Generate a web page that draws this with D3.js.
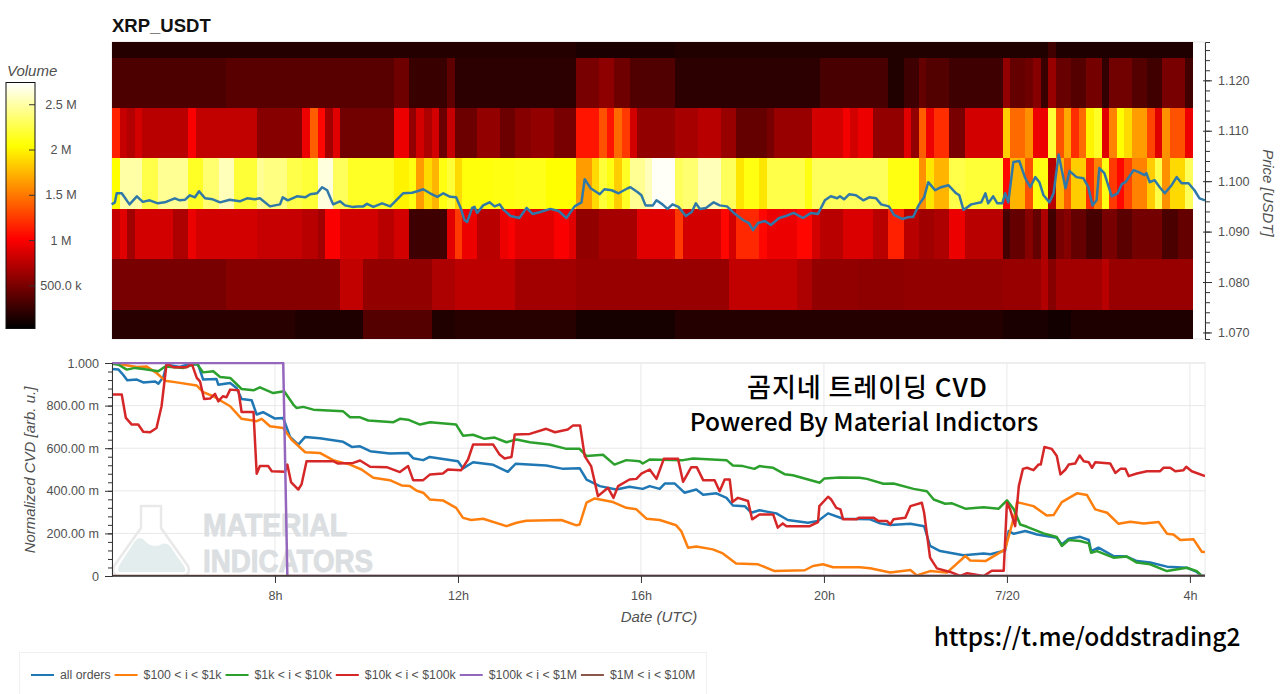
<!DOCTYPE html>
<html>
<head>
<meta charset="utf-8">
<script src="https://cdn.jsdelivr.net/npm/d3@7/dist/d3.min.js"></script>
<style>
  html, body { margin: 0; padding: 0; background: #fff; overflow: hidden; }
  text { font-family: "Liberation Sans", Arial, sans-serif; fill: #505050; }
  .ann { font-family: "Noto Sans CJK KR", "Noto Sans", sans-serif; fill: #000; }
</style>
</head>
<body>
<svg id="chart" width="1280" height="694"></svg>
<script>
// ---- heatmap: volume per price bin, stored as runs of [last column, volume in millions]
const priceBinEdges = [1.1276, 1.1245, 1.1145, 1.1045, 1.0945, 1.0845, 1.0745, 1.0687];
const columnCount = 142;
const columnStepHours = 0.1664;
const binTop = [[61,.17],[74,.13],[123,.16],[124,.28],[142,.15]];
const bin1120 = [[15,.33],[37,.37],[39,.46],[44,.25],[45,.4],[61,.2],[64,.5],[66,.58],[68,.46],[74,.34],[93,.2],[102,.31],[104,.16],[106,.27],[107,.42],[110,.35],[117,.27],[118,.6],[120,.42],[121,.46],[122,.55],[123,.25],[124,.62],[126,.43],[128,.36],[130,.48],[131,.22],[134,.47],[136,.36],[138,.28],[141,.5],[142,.28]];
const bin1110 = [[1,1.15],[2,.8],[3,.72],[4,.85],[10,.75],[11,1.0],[19,.78],[25,.55],[26,.95],[27,1.4],[28,1.05],[29,.65],[30,.9],[37,.47],[39,.95],[40,.6],[41,.85],[42,.7],[43,.85],[44,.45],[45,.8],[48,.45],[51,.6],[53,.45],[55,.55],[58,.6],[61,.5],[64,1.1],[65,1.35],[66,1.1],[67,1.45],[68,1.25],[69,.85],[74,.6],[77,.68],[80,.75],[82,.62],[86,.42],[87,.5],[92,.62],[96,.85],[97,.98],[98,.85],[100,.95],[104,.6],[105,.9],[106,.6],[107,1.4],[108,.95],[110,1.2],[112,.5],[117,.85],[118,1.85],[120,1.45],[121,1.6],[123,.95],[124,2.2],[125,1.35],[126,1.7],[127,1.2],[128,1.45],[129,2.0],[130,2.15],[131,.9],[132,1.55],[133,2.05],[134,1.9],[136,1.65],[137,1.3],[138,.9],[139,1.6],[141,1.35],[142,.95]];
const bin1100 = [[1,2.05],[4,2.5],[6,2.25],[10,2.45],[12,2.15],[14,2.35],[16,2.55],[19,2.2],[20,2.45],[23,2.4],[25,2.25],[27,2.2],[29,2.65],[31,2.3],[37,2.15],[39,2.0],[40,2.1],[41,1.65],[42,1.9],[43,1.75],[44,2.1],[45,2.2],[46,1.9],[50,2.08],[53,2.1],[57,2.12],[61,2.05],[63,1.65],[64,1.9],[65,2.2],[66,2.1],[67,1.85],[68,2.15],[70,2.45],[71,2.55],[74,2.72],[75,2.3],[77,2.35],[80,2.55],[82,2.3],[83,1.95],[85,2.1],[86,1.95],[91,2.25],[92,2.1],[102,2.3],[106,2.1],[107,1.6],[108,1.95],[110,1.75],[112,2.25],[117,2.2],[118,1.05],[120,1.75],[121,1.35],[123,2.1],[124,.75],[125,1.75],[126,1.4],[128,1.85],[129,1.2],[130,1.55],[131,2.1],[132,1.25],[133,1.05],[134,1.3],[136,1.55],[137,1.85],[138,2.25],[139,1.6],[141,1.9],[142,2.3]];
const bin1090 = [[1,.8],[2,.9],[3,.65],[8,.85],[10,.7],[11,.95],[19,.85],[25,.8],[27,.75],[28,.65],[30,1.0],[35,.85],[37,.75],[39,.85],[44,.27],[45,.9],[46,1.25],[48,.95],[51,.75],[52,.95],[53,1.0],[58,.9],[60,1.0],[61,.9],[64,.6],[69,.68],[74,.9],[75,1.25],[80,.85],[81,1.05],[82,.85],[85,1.18],[86,1.05],[90,.95],[92,1.05],[93,.85],[96,.75],[100,.88],[102,.75],[104,1.15],[106,.75],[108,.65],[110,.7],[112,.95],[117,.75],[118,.3],[120,.42],[121,.55],[122,.42],[123,.7],[124,.28],[125,.5],[126,.55],[128,.42],[130,.3],[132,.5],[134,.38],[138,.48],[140,.32],[142,.42]];
const bin1080 = [[15,.5],[30,.55],[33,.78],[42,.6],[45,.7],[53,.76],[61,.66],[81,.62],[90,.78],[92,.7],[98,.6],[104,.58],[117,.6],[122,.62],[123,.72],[124,.55],[130,.66],[131,.75],[142,.62]];
const bin1070 = [[24,.185],[33,.15],[42,.36],[45,.16],[61,.18],[74,.12],[98,.17],[117,.17],[123,.13],[126,.1],[142,.15]];
const volumeBins = [binTop, bin1120, bin1110, bin1100, bin1090, bin1080, bin1070];

// ---- price line: [hour since 7/19 00:00, USDT]
const priceSeries = [[4.43,1.0954],[4.5,1.0958],[4.54,1.0976],[4.65,1.0976],[4.82,1.0954],[4.98,1.097],[5.11,1.0959],[5.26,1.0962],[5.44,1.0956],[5.59,1.0958],[5.81,1.0966],[5.92,1.0962],[6.03,1.0963],[6.14,1.0972],[6.25,1.0968],[6.34,1.098],[6.47,1.0966],[6.64,1.0964],[6.8,1.0958],[7.01,1.0963],[7.23,1.096],[7.39,1.0966],[7.56,1.0964],[7.67,1.0966],[7.89,1.095],[8.11,1.0954],[8.17,1.0968],[8.28,1.0962],[8.48,1.097],[8.66,1.0968],[8.77,1.0974],[8.92,1.0976],[9.03,1.0988],[9.14,1.0982],[9.27,1.0954],[9.42,1.096],[9.53,1.0952],[9.69,1.0949],[9.8,1.095],[9.93,1.095],[10.01,1.0955],[10.15,1.0949],[10.34,1.0956],[10.52,1.095],[10.67,1.0964],[10.8,1.0976],[11,1.0977],[11.11,1.098],[11.24,1.0984],[11.39,1.0976],[11.55,1.0969],[11.68,1.0976],[11.83,1.0969],[11.96,1.0968],[12.05,1.0949],[12.14,1.0923],[12.2,1.0919],[12.31,1.0947],[12.36,1.0949],[12.42,1.0937],[12.55,1.0952],[12.69,1.0958],[12.8,1.095],[12.91,1.0954],[13,1.0943],[13.15,1.0931],[13.34,1.0927],[13.5,1.0947],[13.63,1.0935],[13.8,1.0939],[14.02,1.0945],[14.2,1.0941],[14.37,1.0927],[14.55,1.095],[14.7,1.0958],[14.77,1.1004],[14.9,1.0986],[15.1,1.0974],[15.2,1.0984],[15.36,1.0982],[15.51,1.0976],[15.71,1.0986],[15.77,1.0988],[15.93,1.0978],[16.01,1.0972],[16.1,1.0952],[16.26,1.0952],[16.34,1.0962],[16.47,1.0954],[16.58,1.0945],[16.69,1.0954],[16.82,1.0949],[16.98,1.0931],[17.11,1.0939],[17.2,1.0956],[17.29,1.0945],[17.42,1.0947],[17.59,1.0958],[17.72,1.0952],[17.88,1.095],[18.03,1.0937],[18.23,1.0923],[18.36,1.0917],[18.45,1.0903],[18.56,1.0917],[18.71,1.0921],[18.84,1.0913],[19.02,1.0927],[19.17,1.0931],[19.34,1.0937],[19.54,1.0927],[19.72,1.0937],[19.87,1.0935],[20.02,1.0962],[20.15,1.097],[20.29,1.0966],[20.35,1.097],[20.44,1.0964],[20.55,1.0974],[20.7,1.0972],[20.86,1.0962],[20.99,1.0968],[21.14,1.0966],[21.25,1.0954],[21.42,1.095],[21.53,1.0933],[21.71,1.0925],[21.86,1.0929],[21.95,1.0929],[22.08,1.0954],[22.19,1.0968],[22.28,1.0998],[22.43,1.0982],[22.56,1.0988],[22.72,1.0992],[22.89,1.0976],[22.96,1.0972],[23.05,1.0943],[23.22,1.0954],[23.44,1.0958],[23.53,1.0976],[23.59,1.0956],[23.7,1.097],[23.79,1.0956],[23.9,1.0956],[23.96,1.0976],[24.03,1.0958],[24.14,1.1038],[24.27,1.104],[24.4,1.1006],[24.51,1.0988],[24.62,1.1008],[24.71,1.0998],[24.8,1.0972],[24.93,1.0958],[25.02,1.0976],[25.13,1.1053],[25.28,1.0986],[25.37,1.102],[25.52,1.1008],[25.67,1.1006],[25.78,1.0988],[25.87,1.0952],[25.96,1.0962],[26.02,1.1026],[26.13,1.1016],[26.29,1.097],[26.42,1.0976],[26.51,1.0994],[26.59,1.0998],[26.77,1.1022],[26.88,1.1018],[27.01,1.1012],[27.05,1.1016],[27.12,1.0998],[27.23,1.1002],[27.34,1.0988],[27.45,1.0976],[27.6,1.0992],[27.71,1.1008],[27.82,1.0996],[27.97,1.0996],[28.1,1.0982],[28.21,1.0966],[28.33,1.0962]];

// ---- normalized CVD series: [hour since 7/19 00:00, value]
const cvdAllOrders = [[4.44,.972],[4.58,.969],[4.68,.945],[4.77,.919],[4.98,.922],[5.12,.909],[5.38,.913],[5.45,.903],[5.56,.934],[5.63,.992],[5.92,.981],[6.14,.997],[6.32,.992],[6.43,.922],[6.72,.925],[6.76,.898],[7.02,.906],[7.16,.883],[7.27,.831],[7.49,.825],[7.6,.758],[7.74,.769],[8,.739],[8.18,.742],[8.33,.653],[8.51,.617],[8.66,.653],[8.98,.647],[9.49,.63],[9.68,.606],[9.86,.609],[10.08,.586],[10.51,.575],[10.91,.578],[11.02,.553],[11.24,.544],[11.38,.559],[12,.539],[12.11,.505],[12.33,.534],[12.77,.522],[13.09,.489],[13.26,.527],[13.93,.519],[14.3,.503],[14.66,.506],[14.81,.453],[15.1,.422],[15.46,.406],[15.75,.419],[16.04,.409],[16.19,.422],[16.41,.409],[16.52,.434],[16.74,.434],[16.95,.391],[17.21,.406],[17.36,.381],[17.65,.388],[17.87,.367],[18.01,.331],[18.27,.328],[18.41,.297],[18.59,.309],[18.96,.294],[19.21,.263],[19.65,.25],[19.87,.258],[20.09,.294],[20.42,.269],[21.01,.266],[21.23,.247],[21.45,.239],[21.89,.245],[22.19,.234],[22.32,.141],[22.54,.117],[23.05,.097],[23.49,.106],[23.64,.102],[23.96,.12],[24.04,.211],[24.15,.198],[24.4,.211],[24.66,.195],[25.09,.18],[25.2,.148],[25.35,.175],[25.6,.184],[25.79,.169],[25.84,.117],[26,.133],[26.33,.094],[26.62,.091],[26.84,.07],[27.13,.063],[27.5,.044],[27.93,.039],[28.15,.019],[28.26,0],[28.33,0]];
const cvd100to1k = [[4.44,1],[4.68,.992],[4.98,.981],[5.19,.984],[5.41,.953],[5.6,.917],[5.85,.909],[6.29,.894],[6.43,.863],[6.65,.844],[7.02,.797],[7.27,.738],[7.6,.727],[7.71,.738],[7.89,.703],[8.18,.695],[8.36,.641],[8.66,.581],[8.98,.578],[9.27,.544],[9.64,.523],[9.89,.5],[10.15,.461],[10.51,.45],[10.77,.425],[10.95,.422],[11.1,.4],[11.24,.391],[11.39,.359],[11.67,.355],[11.96,.32],[12.11,.273],[12.29,.263],[12.55,.269],[13.06,.234],[13.28,.25],[13.49,.259],[14.26,.263],[14.59,.238],[14.66,.242],[14.81,.344],[14.99,.364],[15.39,.347],[15.68,.32],[15.9,.313],[16.12,.269],[16.41,.263],[16.77,.238],[16.88,.211],[17.03,.133],[17.21,.138],[17.57,.125],[17.79,.106],[18.08,.059],[18.56,.055],[18.92,.023],[19.58,.027],[19.76,.047],[19.98,.055],[20.2,.041],[20.78,.041],[21.01,.036],[21.45,.016],[21.89,.028],[22.03,.003],[22.32,.023],[22.69,.016],[23.09,.094],[23.2,.073],[23.53,.07],[23.96,.125],[24.07,.211],[24.18,.297],[24.22,.347],[24.58,.328],[24.87,.284],[25.02,.286],[25.2,.347],[25.53,.388],[25.75,.38],[25.93,.313],[26.19,.297],[26.44,.245],[26.7,.255],[26.99,.247],[27.32,.253],[27.5,.198],[27.64,.195],[27.79,.169],[28.08,.172],[28.26,.114],[28.33,.113]];
const cvd1kto10k = [[4.44,.997],[4.58,.992],[4.76,.969],[4.94,.977],[5.12,.972],[5.45,.961],[5.6,.984],[6,.977],[6.29,.997],[6.43,.956],[6.65,.961],[6.8,.934],[7.02,.93],[7.27,.878],[7.53,.872],[7.67,.886],[7.96,.859],[8.2,.867],[8.4,.805],[8.47,.789],[8.62,.794],[8.84,.781],[9.49,.773],[9.64,.745],[9.86,.745],[10.04,.73],[10.59,.722],[10.73,.738],[10.91,.734],[11.17,.711],[11.39,.722],[11.96,.711],[12.11,.659],[12.33,.663],[12.58,.644],[12.8,.65],[13.06,.628],[13.28,.641],[13.57,.628],[14,.617],[14.37,.597],[14.66,.597],[14.81,.563],[15.17,.569],[15.42,.523],[15.68,.544],[15.97,.539],[16.04,.528],[16.19,.547],[16.92,.544],[17.14,.552],[17.87,.544],[18.01,.519],[18.23,.516],[18.48,.503],[18.59,.516],[18.89,.508],[19.14,.478],[19.32,.473],[19.91,.438],[20.01,.458],[20.34,.463],[20.78,.461],[20.94,.456],[21.3,.433],[21.52,.434],[21.96,.409],[22.25,.398],[22.4,.359],[22.65,.339],[22.8,.341],[23.09,.316],[23.49,.323],[23.82,.316],[24,.355],[24.15,.313],[24.29,.242],[24.44,.231],[24.8,.2],[25.09,.183],[25.2,.141],[25.35,.169],[25.6,.164],[25.79,.153],[25.84,.109],[25.97,.117],[26.33,.086],[26.62,.091],[26.84,.063],[27.13,.055],[27.5,.023],[27.93,.039],[28.15,.023],[28.26,0],[28.33,0]];
const cvd10kto100k = [[4.44,.852],[4.65,.852],[4.74,.742],[4.87,.711],[5.01,.711],[5.12,.677],[5.27,.675],[5.41,.695],[5.52,.797],[5.63,.997],[5.78,.98],[6.07,.98],[6.18,.997],[6.29,.93],[6.36,.914],[6.45,.831],[6.58,.833],[6.69,.855],[6.76,.82],[6.86,.844],[6.94,.839],[7.02,.875],[7.2,.872],[7.27,.77],[7.53,.77],[7.6,.48],[7.67,.516],[7.85,.516],[7.93,.492],[8.22,.489],[8.27,.523],[8.35,.441],[8.51,.406],[8.58,.43],[8.69,.539],[9.27,.539],[9.38,.528],[9.71,.531],[9.86,.542],[10.08,.513],[10.44,.511],[10.73,.488],[10.91,.516],[11.02,.45],[11.24,.45],[11.39,.477],[11.67,.481],[11.78,.5],[12.07,.497],[12.22,.547],[12.33,.617],[12.77,.617],[12.91,.57],[13.02,.552],[13.17,.559],[13.24,.664],[13.57,.667],[13.93,.691],[14.12,.675],[14.4,.688],[14.51,.706],[14.67,.706],[14.77,.563],[14.91,.516],[15.06,.375],[15.28,.414],[15.4,.367],[15.5,.422],[15.75,.453],[15.9,.456],[16.01,.481],[16.19,.5],[16.34,.456],[16.5,.55],[16.81,.55],[16.92,.442],[17.1,.511],[17.22,.511],[17.36,.45],[17.61,.45],[17.72,.398],[17.83,.453],[17.94,.453],[18,.347],[18.12,.367],[18.34,.352],[18.43,.266],[18.59,.289],[18.89,.289],[18.99,.227],[19.1,.247],[19.18,.234],[19.69,.234],[19.87,.253],[19.9,.328],[20.09,.372],[20.16,.359],[20.27,.32],[20.36,.313],[20.42,.266],[20.71,.266],[20.76,.273],[21.09,.273],[21.19,.258],[21.38,.258],[21.45,.242],[21.52,.266],[21.78,.273],[21.89,.328],[22.14,.344],[22.19,.297],[22.32,.086],[22.47,.036],[22.76,.019],[22.98,0],[23.13,.013],[23.49,0],[23.67,.025],[23.93,.025],[24,.344],[24.07,.313],[24.18,.234],[24.26,.422],[24.35,.503],[24.44,.508],[24.58,.497],[24.69,.523],[24.74,.523],[24.82,.606],[24.98,.597],[25.09,.563],[25.17,.477],[25.28,.5],[25.35,.523],[25.49,.528],[25.59,.566],[25.68,.539],[25.79,.534],[25.86,.508],[25.93,.534],[26.26,.528],[26.37,.484],[26.48,.503],[26.59,.503],[26.66,.469],[26.84,.481],[27.06,.492],[27.35,.492],[27.42,.508],[27.57,.508],[27.68,.492],[27.86,.497],[27.92,.513],[28.04,.492],[28.33,.469]];
const cvd100kto1m = [[4.44,1],[8.18,1],[8.27,0],[28.33,0]];
const cvd1mto10m = [[4.44,0],[28.33,0]];

const seriesNames = ["all orders", "$100 < i < $1k", "$1k < i < $10k", "$10k < i < $100k", "$100k < i < $1M", "$1M < i < $10M"];
const seriesValues = [cvdAllOrders, cvd100to1k, cvd1kto10k, cvd10kto100k, cvd100kto1m, cvd1mto10m];
const seriesColors = ["#1f77b4", "#ff7f0e", "#2ca02c", "#d62728", "#9467bd", "#8c564b"];

// ---- axis ticks
const timeTickHours = [8, 12, 16, 20, 24, 28];
const timeTickLabels = ["8h", "12h", "16h", "20h", "7/20", "4h"];
const cvdTicks = [0, .2, .4, .6, .8, 1];
const cvdTickLabels = ["0", "200.00 m", "400.00 m", "600.00 m", "800.00 m", "1.000"];
const priceTicks = [1.07, 1.08, 1.09, 1.10, 1.11, 1.12];
const volumeTicks = [.5, 1, 1.5, 2, 2.5];
const volumeTickLabels = ["500.0 k", "1 M", "1.5 M", "2 M", "2.5 M"];

// ---- layout
const plotLeft = 112, plotRight = 1205;
const heatTop = 42, heatBottom = 339;
const cvdTop = 363, cvdBottom = 576;
const hourStart = 4.437, hourEnd = 28.33;
const tickFont = "12.6px", titleFont = "15px";

const svg = d3.select("#chart");
const x = d3.scaleLinear().domain([hourStart, hourEnd]).range([plotLeft, plotRight]);
const yPrice = d3.scaleLinear().domain([1.0687, 1.1276]).range([heatBottom, heatTop]);
const yCvd = d3.scaleLinear().domain([0, 1]).range([cvdBottom, cvdTop]);
const hot = d3.scaleLinear().domain([.03, 1.02, 2.05, 2.74]).range(["#000000", "#ff0000", "#ffff00", "#ffffff"]).clamp(true);
const yVolume = d3.scaleLinear().domain([.035, 2.74]).range([328, 83]);

// expand each bin's runs into one cell per column
const cells = [];
volumeBins.forEach((runs, bin) => {
  let col = 0;
  runs.forEach(([last, volume]) => {
    for (; col < last; col++) cells.push({ bin, col, volume });
  });
});

// ---- top panel
svg.append("text").attr("x", plotLeft).attr("y", 32)
  .style("font-weight", "bold").style("font-size", "18.5px").style("fill", "#111").text("XRP_USDT");

svg.append("rect").attr("x", plotLeft).attr("y", heatTop).attr("width", plotRight - plotLeft).attr("height", heatBottom - heatTop)
  .attr("fill", "none").attr("stroke", "#e5e5e5");

const colX = c => x(hourStart + c * columnStepHours);
svg.append("g").attr("shape-rendering", "crispEdges").selectAll("rect").data(cells).join("rect")
  .attr("x", d => colX(d.col))
  .attr("width", d => colX(d.col + 1) - colX(d.col) + .4)
  .attr("y", d => yPrice(priceBinEdges[d.bin]))
  .attr("height", d => yPrice(priceBinEdges[d.bin + 1]) - yPrice(priceBinEdges[d.bin]))
  .attr("fill", d => hot(d.volume));

const priceLine = d3.line().x(d => x(d[0])).y(d => yPrice(d[1]));
svg.append("path").datum(priceSeries).attr("d", priceLine)
  .attr("fill", "none").attr("stroke", "#2f78a8").attr("stroke-width", 2.5).attr("stroke-linejoin", "round");

// price axis on the right, with minor ticks every 0.002
const priceAxisG = svg.append("g").attr("transform", `translate(${plotRight},0)`);
priceAxisG.append("g").call(d3.axisRight(yPrice).tickValues(d3.range(1.070, 1.1271, .002)).tickSize(5).tickFormat(""))
  .call(g => g.select(".domain").attr("stroke", "#333"))
  .call(g => g.selectAll("line").attr("stroke", "#333"));
priceAxisG.append("g").call(d3.axisRight(yPrice).tickValues(priceTicks).tickSize(7).tickPadding(6).tickFormat(d3.format(".3f")))
  .call(g => g.select(".domain").remove())
  .call(g => g.selectAll("line").attr("x1", -2).attr("stroke", "#333"))
  .call(g => g.selectAll("text").style("font-size", tickFont));
svg.append("text").attr("transform", `translate(1263,193) rotate(90)`).attr("text-anchor", "middle")
  .style("font-style", "italic").style("font-size", titleFont).text("Price [USDT]");

// ---- volume colour bar
const barSteps = d3.range(.035, 2.74, .0111);
const barG = svg.append("g");
barG.append("g").attr("shape-rendering", "crispEdges").selectAll("rect").data(barSteps).join("rect")
  .attr("x", 6).attr("width", 29)
  .attr("y", d => yVolume(d + .0111)).attr("height", d => yVolume(d) - yVolume(d + .0111) + .5)
  .attr("fill", d => hot(d));
barG.append("rect").attr("x", 6).attr("y", 82.5).attr("width", 29).attr("height", 246)
  .attr("fill", "none").attr("stroke", "#111");
barG.selectAll("line.vtick").data(volumeTicks).join("line").attr("class", "vtick")
  .attr("x1", 29).attr("x2", 35).attr("y1", d => yVolume(d)).attr("y2", d => yVolume(d)).attr("stroke", "#333");
barG.selectAll("text.vlab").data(volumeTicks).join("text").attr("class", "vlab")
  .attr("x", 61).attr("y", d => yVolume(d) + 4).attr("text-anchor", "middle")
  .style("font-size", tickFont).text((d, i) => volumeTickLabels[i]);
svg.append("text").attr("x", 7).attr("y", 76).style("font-style", "italic").style("font-size", titleFont).text("Volume");

// ---- CVD panel
svg.append("rect").attr("x", plotLeft).attr("y", cvdTop).attr("width", plotRight - plotLeft).attr("height", cvdBottom - cvdTop)
  .attr("fill", "none").attr("stroke", "#e8e8e8");
svg.append("g").selectAll("line").data(cvdTicks).join("line")
  .attr("x1", plotLeft).attr("x2", plotRight).attr("y1", d => yCvd(d)).attr("y2", d => yCvd(d)).attr("stroke", "#e8e8e8");
svg.append("g").selectAll("line").data(timeTickHours).join("line")
  .attr("x1", d => x(d)).attr("x2", d => x(d)).attr("y1", cvdTop).attr("y2", cvdBottom).attr("stroke", "#e8e8e8");

// product watermark behind the lines
const mark = svg.append("g");
mark.append("path").attr("fill", "#e4eded")
  .attr("d", "M119,572 Q117,570 120,564 L133,544 Q139,534 145,541 Q151,548 160,545 Q168,540 174,552 L184,566 Q187,572 183,572 Z");
mark.append("path").attr("fill", "none").attr("stroke", "#e9e9e9").attr("stroke-width", 2.5)
  .attr("d", "M141,506 L161,506 L161,528 L188,566 Q191,575 183,576 L119,576 Q111,575 114,566 L141,528 Z");
mark.append("text").attr("x", 203).attr("y", 536).attr("textLength", 144).attr("lengthAdjust", "spacingAndGlyphs")
  .style("font-weight", "bold").style("font-size", "31px").style("fill", "#dcdfe2")
  .style("stroke", "#dcdfe2").style("stroke-width", 1).text("MATERIAL");
mark.append("text").attr("x", 203).attr("y", 572).attr("textLength", 170).attr("lengthAdjust", "spacingAndGlyphs")
  .style("font-weight", "bold").style("font-size", "31px").style("fill", "#dcdfe2")
  .style("stroke", "#dcdfe2").style("stroke-width", 1).text("INDICATORS");

svg.append("clipPath").attr("id", "cvdClip").append("rect")
  .attr("x", plotLeft).attr("y", cvdTop - 1).attr("width", plotRight - plotLeft).attr("height", cvdBottom - cvdTop + 1);
const cvdLine = d3.line().x(d => x(d[0])).y(d => yCvd(d[1]));
svg.append("g").attr("clip-path", "url(#cvdClip)").selectAll("path").data(seriesValues).join("path")
  .attr("d", cvdLine).attr("fill", "none").attr("stroke-width", 2.5).attr("stroke-linejoin", "round")
  .attr("stroke", (d, i) => seriesColors[i]);

// CVD axes with minor ticks every 0.04
const cvdAxisG = svg.append("g").attr("transform", `translate(${plotLeft},0)`);
cvdAxisG.append("g").call(d3.axisLeft(yCvd).tickValues(d3.range(0, 1.001, .04)).tickSize(4).tickFormat(""))
  .call(g => g.select(".domain").attr("stroke", "#333"))
  .call(g => g.selectAll("line").attr("stroke", "#333"));
cvdAxisG.append("g").call(d3.axisLeft(yCvd).tickValues(cvdTicks).tickSize(7).tickPadding(6).tickFormat((d, i) => cvdTickLabels[i]))
  .call(g => g.select(".domain").remove())
  .call(g => g.selectAll("line").attr("stroke", "#333"))
  .call(g => g.selectAll("text").style("font-size", tickFont));
svg.append("g").attr("transform", `translate(0,${cvdBottom})`)
  .call(d3.axisBottom(x).tickValues(timeTickHours).tickSize(7).tickPadding(8).tickFormat((d, i) => timeTickLabels[i]))
  .call(g => g.select(".domain").attr("stroke", "#333").attr("stroke-width", 1.5).attr("d", `M${plotLeft},0H${plotRight}`))
  .call(g => g.selectAll("line").attr("stroke", "#333"))
  .call(g => g.selectAll("text").style("font-size", tickFont));
svg.append("text").attr("transform", "translate(35,470) rotate(-90)").attr("text-anchor", "middle")
  .style("font-style", "italic").style("font-size", titleFont).text("Normalized CVD [arb. u.]");
svg.append("text").attr("x", 659).attr("y", 622).attr("text-anchor", "middle")
  .style("font-style", "italic").style("font-size", titleFont).text("Date (UTC)");

// ---- overlaid captions
svg.append("text").attr("class", "ann").attr("x", 867).attr("y", 397).attr("text-anchor", "middle")
  .style("font-size", "26px").style("font-weight", 500).attr("textLength", 240).text("곰지네 트레이딩 CVD");
svg.append("text").attr("class", "ann").attr("x", 864).attr("y", 431).attr("text-anchor", "middle")
  .style("font-size", "24.5px").style("font-weight", 500).text("Powered By Material Indictors");
svg.append("text").attr("class", "ann").attr("x", 1087).attr("y", 646).attr("text-anchor", "middle")
  .style("font-size", "24.5px").style("font-weight", 500).text("https://t.me/oddstrading2");

// ---- legend
const legend = svg.append("g");
legend.append("rect").attr("x", 19.5).attr("y", 652.5).attr("width", 687).attr("height", 44).attr("fill", "#fff").attr("stroke", "#f0f0f0");
let legendX = 31;
seriesNames.forEach((name, i) => {
  legend.append("line").attr("x1", legendX).attr("x2", legendX + 23).attr("y1", 675).attr("y2", 675)
    .attr("stroke", seriesColors[i]).attr("stroke-width", 2);
  const label = legend.append("text").attr("x", legendX + 29).attr("y", 679).style("font-size", "12.3px").text(name);
  legendX += 29 + label.node().getComputedTextLength() + 4;
});
</script>
</body>
</html>
